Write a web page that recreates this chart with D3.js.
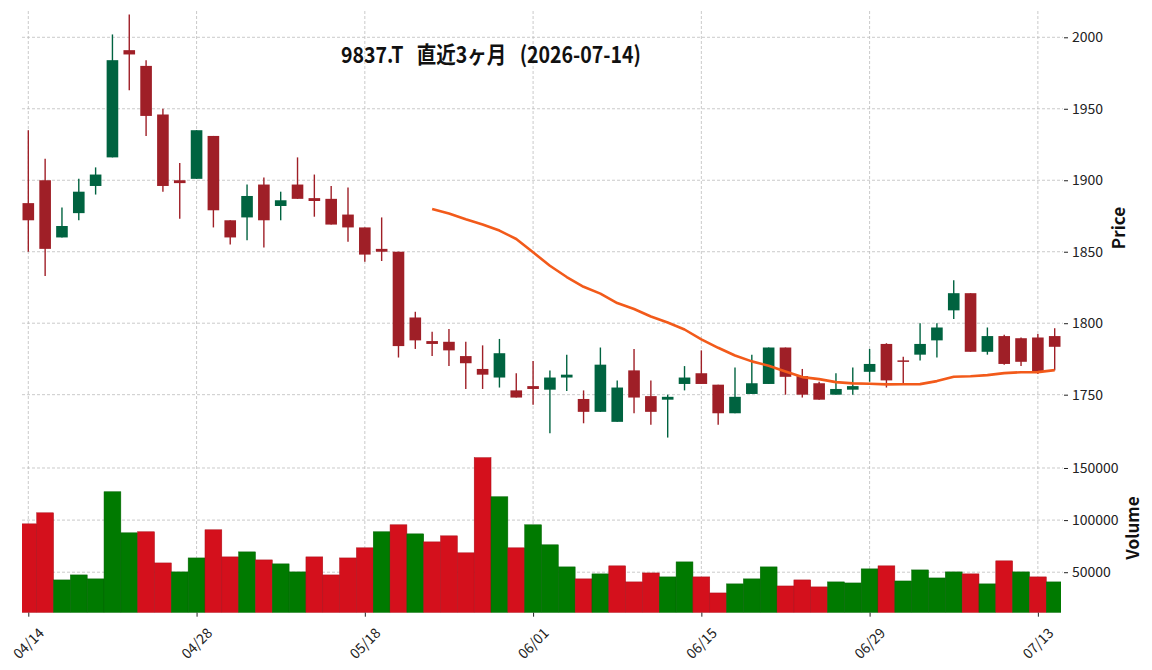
<!DOCTYPE html>
<html>
<head>
<meta charset="utf-8">
<script src="https://cdn.jsdelivr.net/npm/d3@7"></script>
<style>
  body { margin: 0; background: #fff; }
  svg { display: block; font-family: "Noto Sans CJK JP", "Noto Sans", sans-serif; }
</style>
</head>
<body>
<div id="chart"></div>
<script>
var title = "9837.T\u00a0\u00a0\u00a0直近3ヶ月\u00a0\u00a0\u00a0(2026-07-14)";

var dates = ["04/14","04/15","04/16","04/17","04/20","04/21","04/22","04/23","04/24","04/27",
  "04/28","04/30","05/01","05/07","05/08","05/11","05/12","05/13","05/14","05/15",
  "05/18","05/19","05/20","05/21","05/22","05/25","05/26","05/27","05/28","05/29",
  "06/01","06/02","06/03","06/04","06/05","06/08","06/09","06/10","06/11","06/12",
  "06/15","06/16","06/17","06/18","06/19","06/22","06/23","06/24","06/25","06/26",
  "06/29","06/30","07/01","07/02","07/03","07/06","07/07","07/08","07/09","07/10",
  "07/13","07/14"];

var opens = [1884,1900,1860,1877,1896,1916,1991,1980,1946,1900,
  1901,1931,1872,1874,1897,1882,1897,1887.5,1887,1876,
  1867,1852,1850,1804,1787.5,1787,1777,1768,1762,1753,
  1756,1753.5,1762,1747,1738,1731,1767,1749,1746.5,1757.5,
  1765,1757,1737,1750.5,1757.5,1783,1763,1758,1750,1753.5,
  1766,1785.5,1774,1778,1788,1809,1821,1780,1791,1789.5,
  1790,1791];
var highs = [1935,1915,1881,1901,1909,2002,2016,1984,1950,1912,
  1935,1931,1872,1897,1902,1892,1916,1904,1896,1895,
  1867,1874,1850,1808,1794,1796,1787,1784.5,1789,1765,
  1773.5,1767,1778,1753,1783,1760,1782,1760,1750,1770,
  1781,1757,1769,1778,1783,1783,1768,1759,1765,1769,
  1782,1786,1776.5,1800,1800,1830,1821,1797,1792,1790,
  1792.5,1796.5];
var lows = [1850,1833,1860,1872,1890,1916,1963,1931,1892,1873,
  1901,1867,1855,1858,1853,1872,1887,1874.5,1869,1857,
  1843,1843.5,1776,1782,1777,1770,1754,1754,1755,1748,
  1743,1723,1752.5,1730,1738,1731,1737,1729,1720,1753,
  1757.5,1729,1737,1750.5,1757.5,1750,1748,1746.5,1750,1750,
  1759,1755,1758,1774,1776,1803,1780,1778,1771,1770,
  1764.5,1767];
var closes = [1872,1852,1868,1892,1904,1984,1988,1945,1896,1898,
  1935,1879,1860,1889,1872,1886,1887,1885.5,1869,1867,
  1848,1850,1784,1788,1785.5,1781,1772,1764,1779,1748,
  1754,1762,1764,1738,1771,1755,1748,1738,1748.5,1762,
  1757.5,1737,1748.5,1758,1783,1762.5,1750,1746.5,1754,1756,
  1771.5,1760,1773.5,1785.5,1797,1821,1780,1791,1771.5,1773,
  1766.5,1783.5];
var volumes = [96400,107000,42600,47400,43600,127200,87800,88800,58900,50300,
  63700,90700,64700,69500,61800,58000,50300,64700,47400,63700,
  73400,88800,95500,86800,79100,84900,68600,159900,122400,73400,
  95500,76300,55100,43600,48400,56100,40700,49300,45500,59900,
  45500,30100,38800,43600,55100,36800,42600,35900,40700,39700,
  53200,56100,41600,52200,44500,50300,48400,38800,60900,50300,
  45500,40700];
// 25 day moving average (starts on the 25th session)
var maStart = 24;
var ma25 = [1879.9,1876.7,1872.7,1869,1864.8,1858.9,1849.6,1840.2,1832.3,1825.5,
  1820.7,1814.1,1809.9,1804.7,1800.5,1795.6,1788.7,1782.8,1777.4,1773.3,
  1770.3,1766.2,1762.3,1760.9,1758.8,1757.9,1757.6,1757.2,1757.3,1757.4,
  1759.5,1762.5,1762.9,1763.7,1765.1,1765.7,1765.8,1767.2];

var priceTicks = [1750, 1800, 1850, 1900, 1950, 2000];
var volumeTicks = [50000, 100000, 150000];
var xTickIdx = [0, 10, 20, 30, 40, 50, 60];

var upColor = "#006340", downColor = "#9f1f27";
var volUp = "#007a00", volDown = "#d4101c";
var maColor = "#f25a1a";
var gridColor = "#bdbdbd";

var width = 1152, height = 670;
var left = 22, right = 1061;

var svg = d3.select("#chart").append("svg")
  .attr("width", width).attr("height", height);

var x = d3.scaleLinear().domain([-0.375, dates.length - 1 + 0.375]).range([left, right]);
var yP = d3.scaleLinear().domain([1718.3, 2018.4]).range([440, 11]);
var yV = d3.scaleLinear().domain([11150, 175900]).range([612.7, 441]);
var step = x(1) - x(0);

var clip = svg.append("defs");
clip.append("clipPath").attr("id", "clipP").append("rect")
  .attr("x", left).attr("y", 11).attr("width", right - left).attr("height", 429);
clip.append("clipPath").attr("id", "clipV").append("rect")
  .attr("x", left).attr("y", 441).attr("width", right - left).attr("height", 171.7);

// grid
var grid = svg.append("g")
  .attr("stroke", gridColor).attr("stroke-width", 0.8).attr("stroke-dasharray", "3,2");
grid.selectAll(".vg").data(xTickIdx).enter().append("line")
  .attr("x1", function(d) { return x(d); }).attr("x2", function(d) { return x(d); })
  .attr("y1", 11).attr("y2", 612.7);
grid.selectAll(".pg").data(priceTicks).enter().append("line")
  .attr("x1", left).attr("x2", right + 2)
  .attr("y1", function(d) { return yP(d); }).attr("y2", function(d) { return yP(d); });
grid.selectAll(".vlg").data(volumeTicks).enter().append("line")
  .attr("x1", left).attr("x2", right + 2)
  .attr("y1", function(d) { return yV(d); }).attr("y2", function(d) { return yV(d); });

// volume bars, coloured by close vs previous close
var vol = svg.append("g").attr("clip-path", "url(#clipV)");
vol.selectAll("rect").data(volumes).enter().append("rect")
  .attr("x", function(d, i) { return x(i) - step / 2; })
  .attr("width", step)
  .attr("y", function(d) { return yV(d); })
  .attr("height", function(d) { return yV.range()[0] - yV(d); })
  .attr("fill", function(d, i) { return volColor(i); })
  .attr("stroke", function(d, i) { return d3.color(volColor(i)).darker(0.6); })
  .attr("stroke-width", 0.5);

function volColor(i) {
  var prev = i == 0 ? opens[0] : closes[i - 1];
  return closes[i] >= prev ? volUp : volDown;
}

// candles
var candles = svg.append("g").attr("clip-path", "url(#clipP)");
var c = candles.selectAll("g").data(dates).enter().append("g");
c.append("line")
  .attr("x1", function(d, i) { return x(i); }).attr("x2", function(d, i) { return x(i); })
  .attr("y1", function(d, i) { return yP(highs[i]); })
  .attr("y2", function(d, i) { return yP(lows[i]); })
  .attr("stroke", function(d, i) { return closes[i] >= opens[i] ? upColor : downColor; })
  .attr("stroke-width", 1.4);
c.append("rect")
  .attr("x", function(d, i) { return x(i) - step * 0.345; })
  .attr("width", step * 0.69)
  .attr("y", function(d, i) { return yP(Math.max(opens[i], closes[i])); })
  .attr("height", function(d, i) {
    return Math.max(1.5, yP(Math.min(opens[i], closes[i])) - yP(Math.max(opens[i], closes[i])));
  })
  .attr("fill", function(d, i) { return closes[i] >= opens[i] ? upColor : downColor; });

// moving average
var line = d3.line()
  .x(function(d, i) { return x(i + maStart); })
  .y(function(d) { return yP(d); });
svg.append("path").datum(ma25)
  .attr("d", line)
  .attr("fill", "none")
  .attr("stroke", maColor)
  .attr("stroke-width", 2.6)
  .attr("stroke-linejoin", "round");

// right axes
var axisP = d3.axisRight(yP).tickValues(priceTicks).tickFormat(d3.format("d")).tickSize(4).tickPadding(4);
var axisV = d3.axisRight(yV).tickValues(volumeTicks).tickFormat(d3.format("d")).tickSize(4).tickPadding(4);
var gP = svg.append("g").attr("transform", "translate(" + (right + 3) + ",0)").call(axisP);
var gV = svg.append("g").attr("transform", "translate(" + (right + 3) + ",0)").call(axisV);
[gP, gV].forEach(function(g) {
  g.select(".domain").remove();
  g.selectAll("line").attr("stroke", "#222");
  g.selectAll("text").attr("font-size", 14).attr("fill", "#222")
    .attr("font-family", "'Noto Sans CJK JP', 'Noto Sans', sans-serif");
});

// bottom axis
var axisX = d3.axisBottom(x).tickValues(xTickIdx)
  .tickFormat(function(i) { return dates[i]; }).tickSize(4);
var gX = svg.append("g").attr("transform", "translate(0,612.7)").call(axisX);
gX.select(".domain").remove();
gX.selectAll("line").attr("stroke", "#222");
gX.selectAll("text")
  .attr("font-size", 14).attr("fill", "#222")
  .attr("font-family", "'Noto Sans CJK JP', 'Noto Sans', sans-serif")
  .attr("text-anchor", "middle")
  .attr("dy", null).attr("y", null)
  .attr("dominant-baseline", "central")
  .attr("transform", "translate(-1,30) rotate(-45)");

// labels
svg.append("text")
  .attr("transform", "translate(1125,228) rotate(-90)")
  .attr("text-anchor", "middle")
  .attr("font-size", 17).attr("font-weight", "bold").attr("fill", "#111")
  .text("Price");
svg.append("text")
  .attr("transform", "translate(1139,528) rotate(-90)")
  .attr("text-anchor", "middle")
  .attr("font-size", 17).attr("font-weight", "bold").attr("fill", "#111")
  .text("Volume");

svg.append("text")
  .attr("x", 491).attr("y", 63)
  .attr("text-anchor", "middle")
  .attr("font-size", 22.5).attr("font-weight", "bold").attr("fill", "#111")
  .attr("textLength", 300).attr("lengthAdjust", "spacingAndGlyphs")
  .text(title);
</script>
</body>
</html>
